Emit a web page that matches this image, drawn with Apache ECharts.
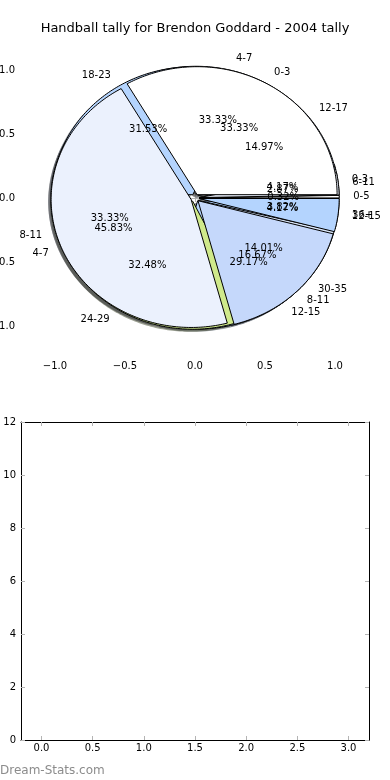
<!DOCTYPE html>
<html>
<head>
<meta charset="utf-8">
<script src="https://cdn.jsdelivr.net/npm/echarts@6/dist/echarts.min.js"></script>
<style>
html,body{margin:0;padding:0;background:#fff;}
#chart{width:390px;height:780px;}
</style>
</head>
<body>
<div id="chart"></div>
<script>
// ---- data ----
const titleText = 'Handball tally for Brendon Goddard - 2004 tally';
const ageCats = ['0-5', '6-11', '12-17', '18-23', '24-29', '30-35', '36+'];
const ageShares = [0.32, 2.87, 14.97, 31.53, 32.48, 14.01, 3.82];
const careerCats = ['0-3', '4-7', '8-11', '12-15'];
const careerShares = [4.17, 33.33, 33.33, 29.17];
const gameCats = ['0-3', '4-7', '8-11', '12-15'];
const gameShares = [33.33, 45.83, 16.67, 4.17];
const pieTicks = [-1.0, -0.5, 0.0, 0.5, 1.0];
const lowerXTicks = [0.0, 0.5, 1.0, 1.5, 2.0, 2.5, 3.0];
const watermark = 'Dream-Stats.com';

// ---- styles ----
const sliceColors = ['#ffffff', '#ebf1fd', '#c5d8fb', '#b4d4fe', '#cfe98b', '#d8e4f6'];
const EXPLODE = 0.03;
const SHADOW_OFF = -0.02;
const FONT = 'DejaVu Sans';
const TICK_COLOR = '#b4b4b4';

// pies in drawing order (bottom to top)
const pies = [
  {cats: careerCats, vals: careerShares},
  {cats: ageCats, vals: ageShares},
  {cats: gameCats, vals: gameShares}
];

const wedgeData = [];
const labelData = [];
pies.forEach((p, pi) => {
  const total = p.vals.reduce((a, b) => a + b, 0);
  let cum = 0;
  p.vals.forEach((v, i) => {
    const s = cum / total * 360;
    cum += v;
    const e = cum / total * 360;
    wedgeData.push([s, e, pi, i]);
    labelData.push([s, e, pi, i, 0]);
    labelData.push([s, e, pi, i, 1]);
  });
});

function hexToRgb(h) {
  const n = parseInt(h.slice(1), 16);
  return [(n >> 16) & 255, (n >> 8) & 255, n & 255];
}
function shadowColor(h) {
  const c = hexToRgb(h).map(x => Math.round(x * 0.3));
  return 'rgba(' + c[0] + ',' + c[1] + ',' + c[2] + ',0.5)';
}

function wedgePoints(api, s, e, ox, oy) {
  const m = (s + e) / 2 * Math.PI / 180;
  const cx = EXPLODE * Math.cos(m) + ox, cy = EXPLODE * Math.sin(m) + oy;
  const pts = [api.coord([cx, cy])];
  const steps = Math.max(2, Math.ceil((e - s) / 1));
  for (let k = 0; k <= steps; k++) {
    const a = (s + (e - s) * k / steps) * Math.PI / 180;
    pts.push(api.coord([cx + Math.cos(a), cy + Math.sin(a)]));
  }
  return pts;
}

function fmtPie(v) {
  return (v < 0 ? '\u2212' : '') + Math.abs(v).toFixed(1);
}

const chart = echarts.init(document.getElementById('chart'), null, {renderer: 'canvas'});

const tickCommon = {show: true, inside: true, length: 4, lineStyle: {color: TICK_COLOR, width: 1}};
const labelCommon = {color: '#000', fontSize: 10, fontFamily: FONT};

const option = {
  animation: false,
  backgroundColor: '#fff',
  title: {
    text: titleText, left: 'center', top: 22, padding: 0,
    textStyle: {fontSize: 13, fontWeight: 'normal', color: '#000', fontFamily: FONT}
  },
  graphic: [{
    type: 'text', left: 0, top: 765,
    style: {text: watermark, fill: '#8c8c8c', fontSize: 12, fontFamily: FONT}
  }],
  grid: [
    {left: 20, top: 38, width: 350, height: 320, outerBoundsMode: 'none', containLabel: false},
    {left: 21, top: 422, width: 348, height: 318, outerBoundsMode: 'none', containLabel: false}
  ],
  xAxis: [
    {type: 'value', gridIndex: 0, min: -1.25, max: 1.25, position: 'bottom',
      axisLine: {show: false}, splitLine: {show: false},
      axisTick: Object.assign({customValues: pieTicks}, tickCommon),
      axisLabel: Object.assign({customValues: pieTicks, margin: 3, formatter: fmtPie}, labelCommon)},
    {type: 'value', gridIndex: 0, min: -1.25, max: 1.25, position: 'top',
      axisLine: {show: false}, splitLine: {show: false},
      axisTick: Object.assign({customValues: pieTicks}, tickCommon),
      axisLabel: {show: false}},
    {type: 'value', gridIndex: 1, min: -0.2, max: 3.2, position: 'bottom',
      axisLine: {show: true, onZero: false, lineStyle: {color: '#000', width: 1}}, splitLine: {show: false},
      axisTick: Object.assign({customValues: lowerXTicks}, tickCommon),
      axisLabel: Object.assign({customValues: lowerXTicks, margin: 3, formatter: v => v.toFixed(1)}, labelCommon)},
    {type: 'value', gridIndex: 1, min: -0.2, max: 3.2, position: 'top',
      axisLine: {show: true, onZero: false, lineStyle: {color: '#000', width: 1}}, splitLine: {show: false},
      axisTick: Object.assign({customValues: lowerXTicks}, tickCommon),
      axisLabel: {show: false}}
  ],
  yAxis: [
    {type: 'value', gridIndex: 0, min: -1.25, max: 1.25, position: 'left',
      axisLine: {show: false}, splitLine: {show: false},
      axisTick: Object.assign({customValues: pieTicks}, tickCommon),
      axisLabel: Object.assign({customValues: pieTicks, margin: 5, formatter: fmtPie}, labelCommon)},
    {type: 'value', gridIndex: 0, min: -1.25, max: 1.25, position: 'right',
      axisLine: {show: false}, splitLine: {show: false},
      axisTick: Object.assign({customValues: pieTicks}, tickCommon),
      axisLabel: {show: false}},
    {type: 'value', gridIndex: 1, min: 0, max: 12, interval: 2, position: 'left',
      axisLine: {show: true, onZero: false, lineStyle: {color: '#000', width: 1}}, splitLine: {show: false},
      axisTick: tickCommon,
      axisLabel: Object.assign({margin: 5}, labelCommon)},
    {type: 'value', gridIndex: 1, min: 0, max: 12, interval: 2, position: 'right',
      axisLine: {show: true, onZero: false, lineStyle: {color: '#000', width: 1}}, splitLine: {show: false},
      axisTick: tickCommon,
      axisLabel: {show: false}}
  ],
  series: [
    {
      type: 'custom', xAxisIndex: 0, yAxisIndex: 0, z: 1, clip: false, silent: true,
      data: wedgeData,
      renderItem: function (params, api) {
        const s = api.value(0), e = api.value(1), ci = api.value(3);
        const col = sliceColors[ci % sliceColors.length];
        return {
          type: 'polygon',
          shape: {points: wedgePoints(api, s, e, SHADOW_OFF, SHADOW_OFF)},
          style: {fill: shadowColor(col), stroke: null}
        };
      }
    },
    {
      type: 'custom', xAxisIndex: 0, yAxisIndex: 0, z: 2, clip: false, silent: true,
      data: wedgeData,
      renderItem: function (params, api) {
        const s = api.value(0), e = api.value(1), ci = api.value(3);
        return {
          type: 'polygon',
          shape: {points: wedgePoints(api, s, e, 0, 0)},
          style: {fill: sliceColors[ci % sliceColors.length], stroke: '#000', lineWidth: 1, lineJoin: 'miter'}
        };
      }
    },
    {
      type: 'custom', xAxisIndex: 0, yAxisIndex: 0, z: 3, clip: false, silent: true,
      data: labelData,
      renderItem: function (params, api) {
        const s = api.value(0), e = api.value(1), pi = api.value(2), i = api.value(3), kind = api.value(4);
        const p = pies[pi];
        const total = p.vals.reduce((a, b) => a + b, 0);
        const m = (s + e) / 2 * Math.PI / 180;
        const cx = EXPLODE * Math.cos(m), cy = EXPLODE * Math.sin(m);
        let xt, yt, text, align;
        if (kind === 0) {
          xt = cx + 1.1 * Math.cos(m); yt = cy + 1.1 * Math.sin(m);
          text = p.cats[i]; align = xt > 0 ? 'left' : 'right';
        } else {
          xt = cx + 0.6 * Math.cos(m); yt = cy + 0.6 * Math.sin(m);
          text = (p.vals[i] / total * 100).toFixed(2) + '%'; align = 'center';
        }
        const pt = api.coord([xt, yt]);
        return {
          type: 'text', x: pt[0], y: pt[1],
          style: {text: text, fill: '#000', fontSize: 10, fontFamily: FONT, align: align, verticalAlign: 'middle'}
        };
      }
    },
    {type: 'line', xAxisIndex: 2, yAxisIndex: 2, data: [], silent: true}
  ]
};
chart.setOption(option);
</script>
</body>
</html>
